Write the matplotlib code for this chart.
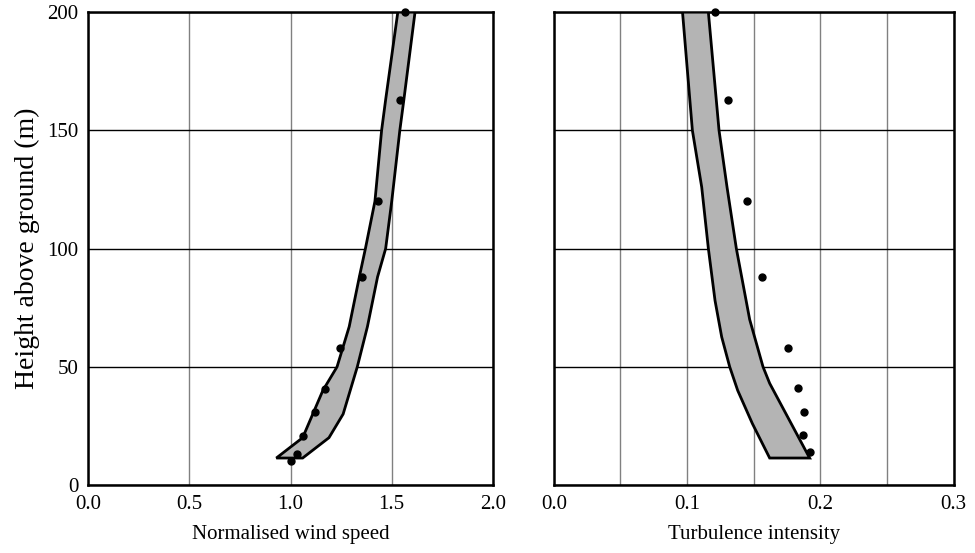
import matplotlib.pyplot as plt

plt.rcParams['font.family'] = 'Liberation Serif'

# wind speed band (left panel): lower/left edge and upper/right edge
ws_left_h = [11.4, 20, 40, 50, 67, 88, 100, 120, 150, 163, 200]
ws_left_x = [0.93, 1.06, 1.16, 1.23, 1.29, 1.34, 1.37, 1.417, 1.45, 1.47, 1.53]
ws_right_h = [11.4, 20, 30, 50, 67, 88, 100, 120, 150, 163, 200]
ws_right_x = [1.06, 1.19, 1.26, 1.33, 1.38, 1.43, 1.47, 1.50, 1.54, 1.56, 1.615]

# measured wind speed
ws_dot_h = [10, 13, 20.7, 31, 40.6, 58, 88, 120, 163, 200]
ws_dot_x = [1.0, 1.03, 1.063, 1.121, 1.17, 1.244, 1.352, 1.43, 1.54, 1.565]

# turbulence intensity band (right panel)
ti_left_h = [11.4, 26, 40, 50, 62.6, 78, 100, 126, 150, 200]
ti_left_x = [0.162, 0.149, 0.138, 0.132, 0.126, 0.121, 0.116, 0.111, 0.104, 0.0966]
ti_right_h = [11.4, 43, 50, 70, 100, 126, 150, 200]
ti_right_x = [0.192, 0.162, 0.157, 0.147, 0.137, 0.130, 0.124, 0.116]

# measured turbulence intensity
ti_dot_h = [14, 21, 31, 41, 58, 88, 120, 163, 200]
ti_dot_x = [0.192, 0.187, 0.1875, 0.183, 0.1755, 0.156, 0.145, 0.1305, 0.121]

fig = plt.figure(figsize=(9.75, 5.53), dpi=100)
ax1 = fig.add_axes([0.0903, 0.123, 0.4153, 0.855])
ax2 = fig.add_axes([0.568, 0.123, 0.41, 0.855])


def band(ax, lx, lh, rx, rh):
    # polygon: up the left edge, down the right edge
    xs = list(lx) + list(rx)[::-1]
    hs = list(lh) + list(rh)[::-1]
    ax.fill(xs, hs, facecolor='#b4b4b4', edgecolor='black', linewidth=2, zorder=3)


band(ax1, ws_left_x, ws_left_h, ws_right_x, ws_right_h)
ax1.plot(ws_dot_x, ws_dot_h, 'o', color='black', markersize=5, zorder=4, clip_on=False)
band(ax2, ti_left_x, ti_left_h, ti_right_x, ti_right_h)
ax2.plot(ti_dot_x, ti_dot_h, 'o', color='black', markersize=5, zorder=4, clip_on=False)

ax1.set_xlim(0, 2)
ax1.set_xticks([0, 0.5, 1.0, 1.5, 2.0])
ax1.set_xticklabels(['0.0', '0.5', '1.0', '1.5', '2.0'])
ax2.set_xlim(0, 0.3)
ax2.set_xticks([0, 0.05, 0.1, 0.15, 0.2, 0.25, 0.3])
ax2.set_xticklabels(['0.0', '', '0.1', '', '0.2', '', '0.3'])

for ax in (ax1, ax2):
    ax.set_ylim(0, 200)
    ax.set_yticks([0, 50, 100, 150, 200])
    ax.grid(axis='x', color='#808080', linewidth=1)
    ax.grid(axis='y', color='black', linewidth=1)
    ax.set_axisbelow(True)
    ax.tick_params(length=0, labelsize=15, pad=7)
    for s in ax.spines.values():
        s.set_linewidth(1.8)

ax2.set_yticklabels([])
ax1.set_xlabel('Normalised wind speed', fontsize=15, labelpad=8)
ax2.set_xlabel('Turbulence intensity', fontsize=15, labelpad=8)
ax1.set_ylabel('Height above ground (m)', fontsize=20, labelpad=5)

fig.savefig('out.png', dpi=100)
